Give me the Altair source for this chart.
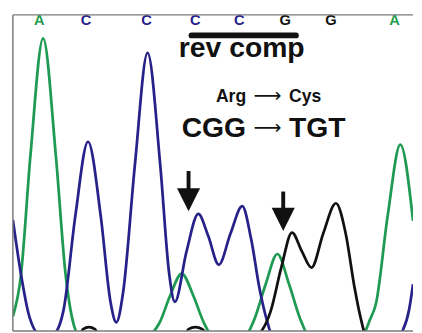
import altair as alt
import pandas as pd

# ---- trace data (x in scan units, s = signal) ----
green_x = [12, 20, 30, 43, 56, 66, 74, 80, 150, 162, 173, 185, 197, 208, 216, 250, 259, 271, 283, 295, 307, 315, 370, 378, 384, 396, 409, 422]
green_s = [15, 55, 180, 300, 180, 58, 8, -4, -4, 8, 36, 59, 36, 8, -4, -4, 11, 48, 79, 48, 11, -4, -4, 12, 28, 118, 191, 113]

blue_x = [12, 20, 28, 35, 38, 52, 58, 64, 76, 89, 102, 112, 118, 125, 137, 150, 163, 172, 178, 190, 202, 212, 223, 235, 247, 256, 265, 272, 278, 408, 412, 418, 422]
blue_s = [114, 60, 18, 0, -4, -4, 2, 22, 118, 194, 118, 30, 9, 40, 170, 285, 170, 60, 30, 82, 120, 98, 68, 100, 128, 95, 42, 12, -4, -4, 2, 22, 48]

black_x = [12, 80, 84, 90, 96, 100, 188, 192, 199, 206, 212, 262, 268, 276, 287, 298, 308, 318, 330, 343, 353, 362, 368, 374, 422]
black_s = [-4, -4, 2, 4, 2, -4, -4, 2, 4, 2, -4, -4, 2, 20, 65, 101, 82, 65, 100, 131, 100, 45, 15, -4, -4]

# ---- base calls ----
base_letters = ["A", "C", "C", "C", "C", "G", "G", "A"]
base_x = [39, 87, 149, 199, 244, 291, 338, 403]
base_colors = ["#1f9e4e", "#27228a", "#27228a", "#27228a", "#27228a", "#111111", "#111111", "#1f9e4e"]

# ---- annotations ----
bar_x = [195]
bar_x2 = [302]
bar_s = [303]

codon_left = ["Arg", "CGG"]
codon_right = ["Cys", "TGT"]
codon_s = [235, 199]
codon_size = [18, 29]
arrow_glyph_s = [241, 208]

arrow_x = [192, 289]
arrow_top = [164, 143]
arrow_bot = [142, 124]
arrow_head = [134.5, 114.5]

W, H = 410, 324
xs = alt.Scale(domain=[12, 422], nice=False, zero=False)
ys = alt.Scale(domain=[0, 324], nice=False, zero=False)
X = lambda f: alt.X(f, type="quantitative", scale=xs, axis=None)
Y = lambda f: alt.Y(f, type="quantitative", scale=ys, axis=None)


def trace(xv, sv, color):
    df = pd.DataFrame({"x": xv, "s": sv, "o": list(range(len(xv)))})
    return alt.Chart(df).mark_line(
        color=color, strokeWidth=2.8, interpolate="monotone", clip=True
    ).encode(x=X("x"), y=Y("s"), order="o:Q")


g = trace(green_x, green_s, "#1f9a52")
b = trace(blue_x, blue_s, "#27228a")
k = trace(black_x, black_s, "#111111")

bases_df = pd.DataFrame({"x": base_x, "s": [319] * len(base_x), "t": base_letters, "c": base_colors})
bases = alt.Chart(bases_df).mark_text(
    font="Liberation Sans", fontWeight="bold", fontSize=15, baseline="middle"
).encode(x=X("x"), y=Y("s"), text="t:N", color=alt.Color("c:N", scale=None))

bar_df = pd.DataFrame({"x": bar_x, "x2": bar_x2, "s": bar_s})
bar = alt.Chart(bar_df).mark_rule(strokeWidth=6, strokeCap="round", color="#111111").encode(
    x=X("x"), x2="x2", y=Y("s")
)

rc_df = pd.DataFrame({"x": [182], "s": [281], "t": ["rev comp"]})
revcomp = alt.Chart(rc_df).mark_text(
    font="Liberation Sans", fontWeight="bold", fontSize=29, align="left", baseline="alphabetic", color="#111111"
).encode(x=X("x"), y=Y("s"), text="t:N")

cl_df = pd.DataFrame({"x": [251, 251], "s": codon_s, "t": codon_left, "z": codon_size})
cr_df = pd.DataFrame({"x": [295, 295], "s": codon_s, "t": codon_right, "z": codon_size})
ca_df = pd.DataFrame({"x": [273, 273], "s": arrow_glyph_s, "t": ["\u27f6", "\u27f6"], "z": [20, 20]})

def txt(df, align):
    return alt.Chart(df).mark_text(
        font="Liberation Sans", fontWeight="bold", align=align, baseline="alphabetic", color="#111111"
    ).encode(x=X("x"), y=Y("s"), text="t:N", size=alt.Size("z:Q", scale=None, legend=None))

cleft = txt(cl_df, "right")
cright = txt(cr_df, "left")
carrow = alt.Chart(ca_df).mark_text(
    font="DejaVu Sans", fontWeight="normal", align="center", baseline="middle", color="#111111"
).encode(x=X("x"), y=Y("s"), text="t:N", size=alt.Size("z:Q", scale=None, legend=None))

ar_df = pd.DataFrame({"x": arrow_x, "top": arrow_top, "bot": arrow_bot, "head": arrow_head})
shafts = alt.Chart(ar_df).mark_rule(strokeWidth=4, color="#111111").encode(
    x=X("x"), y=Y("top"), y2="bot"
)
heads = alt.Chart(ar_df).mark_point(
    shape="M-1,-1L1,-1L0,1Z", filled=True, size=560, color="#111111", opacity=1, strokeWidth=0
).encode(x=X("x"), y=Y("head"))

one = alt.Data(values=[{"a": 1}])
frame_c = "#7a7a7a"
left_b = alt.Chart(one).mark_rule(color=frame_c, strokeWidth=1.5).encode(
    x=alt.value(0), y=alt.value(0), y2=alt.value(H))
top_b = alt.Chart(one).mark_rule(color=frame_c, strokeWidth=1.5).encode(
    x=alt.value(0), x2=alt.value(W), y=alt.value(0))
bot_b = alt.Chart(one).mark_rule(color=frame_c, strokeWidth=1.5).encode(
    x=alt.value(0), x2=alt.value(W), y=alt.value(H))

chart = alt.layer(
    g, b, k, bases, bar, revcomp, cleft, cright, carrow, shafts, heads, left_b, top_b, bot_b
).properties(
    width=W, height=H, padding={"left": 4, "top": 0, "right": 0, "bottom": 1}, background="white"
).configure_view(stroke=None)

chart.save("out.html", embed_options={"renderer": "svg", "actions": False})
